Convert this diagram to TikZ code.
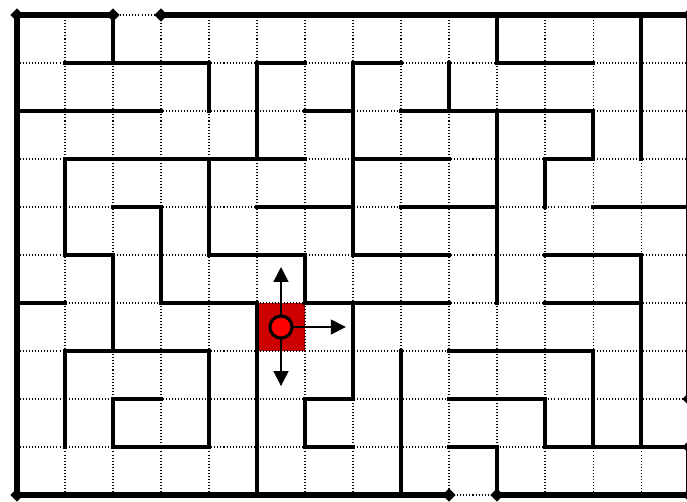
\documentclass[tikz,border=0pt]{standalone}
\usetikzlibrary{arrows.meta}
\definecolor{cellred}{RGB}{204,0,0}
\definecolor{agentred}{RGB}{255,0,0}
\begin{document}
\begin{tikzpicture}[x=1cm,y=1cm,
  gridline/.style={line width=0.6pt, dash pattern=on 0.6pt off 1.2pt, black},
  wall/.style={line width=2pt, line cap=rect, line join=miter},
  borderline/.style={line width=3.9pt, line join=miter},
  move/.style={line width=1pt, -{Triangle[length=0.31cm,width=0.31cm]}},
  agentdot/.style={circle, draw, line width=1.8pt, fill=agentred, minimum size=0.46cm, inner sep=0pt}
]
\useasboundingbox (-0.3542,-0.125) rectangle (13.9583,10.3125);
\clip (-0.3542,-0.125) rectangle (13.9583,10.3125);
\fill[white] (-0.3542,-0.125) rectangle (13.9583,10.3125);
% current cell
\fill[cellred] (5,3) rectangle (6,4);
% dotted grid
\foreach \i in {0,...,14} \draw[gridline] (\i,0) -- (\i,10);
\foreach \j in {0,...,10} \draw[gridline] (0,\j) -- (14,\j);
% outer border
\draw[borderline] (2,10) -- (0,10) -- (0,0) -- (9,0);
\draw[borderline] (10,0) -- (14,0) -- (14,1);
\draw[borderline] (14,2) -- (14,10) -- (3,10);
\foreach \p in {(0,0),(0,10),(2,10),(3,10),(14,10),(14,2),(14,1),(14,0),(10,0),(9,0)}
  \fill \p +(-0.14,0) -- +(0,0.14) -- +(0.14,0) -- +(0,-0.14) -- cycle;
% inner walls
\draw[wall] (2,10)--(2,9);
\draw[wall] (1,9)--(4,9)--(4,8);
\draw[wall] (0,8)--(3,8);
\draw[wall] (5,7)--(5,9)--(6,9);
\draw[wall] (6,8)--(7,8);
\draw[wall] (8,9)--(7,9)--(7,5)--(9,5);
\draw[wall] (9,9)--(9,8);
\draw[wall] (8,8)--(12,8)--(12,7)--(11,7)--(11,6);
\draw[wall] (10,10)--(10,9)--(12,9);
\draw[wall] (13,10)--(13,7);
\draw[wall] (10,8)--(10,4);
\draw[wall] (7,7)--(9,7);
\draw[wall] (8,6)--(10,6);
\draw[wall] (12,6)--(14,6);
\draw[wall] (5,6)--(7,6);
\draw[wall] (1,1)--(1,3)--(4,3)--(4,1)--(2,1)--(2,2)--(3,2);
\draw[wall] (2,3)--(2,5)--(1,5)--(1,7)--(6,7);
\draw[wall] (4,7)--(4,5)--(6,5)--(6,4)--(9,4);
\draw[wall] (0,4)--(1,4);
\draw[wall] (2,6)--(3,6)--(3,4)--(5,4)--(5,0);
\draw[wall] (7,4)--(7,2)--(6,2)--(6,1)--(7,1);
\draw[wall] (8,3)--(8,0);
\draw[wall] (9,3)--(12,3)--(12,1);
\draw[wall] (9,2)--(11,2)--(11,1)--(14,1);
\draw[wall] (9,1)--(10,1)--(10,0);
\draw[wall] (11,5)--(13,5)--(13,1);
\draw[wall] (11,4)--(13,4);
% agent and moves
\coordinate (c) at (5.5,3.5);
\coordinate (up) at (5.5,4.75);
\coordinate (right) at (6.85,3.5);
\coordinate (down) at (5.5,2.27);
\draw[move] (c) -- (up);
\draw[move] (c) -- (right);
\draw[move] (c) -- (down);
\node[agentdot] (agent) at (c) {};
\end{tikzpicture}
\end{document}
